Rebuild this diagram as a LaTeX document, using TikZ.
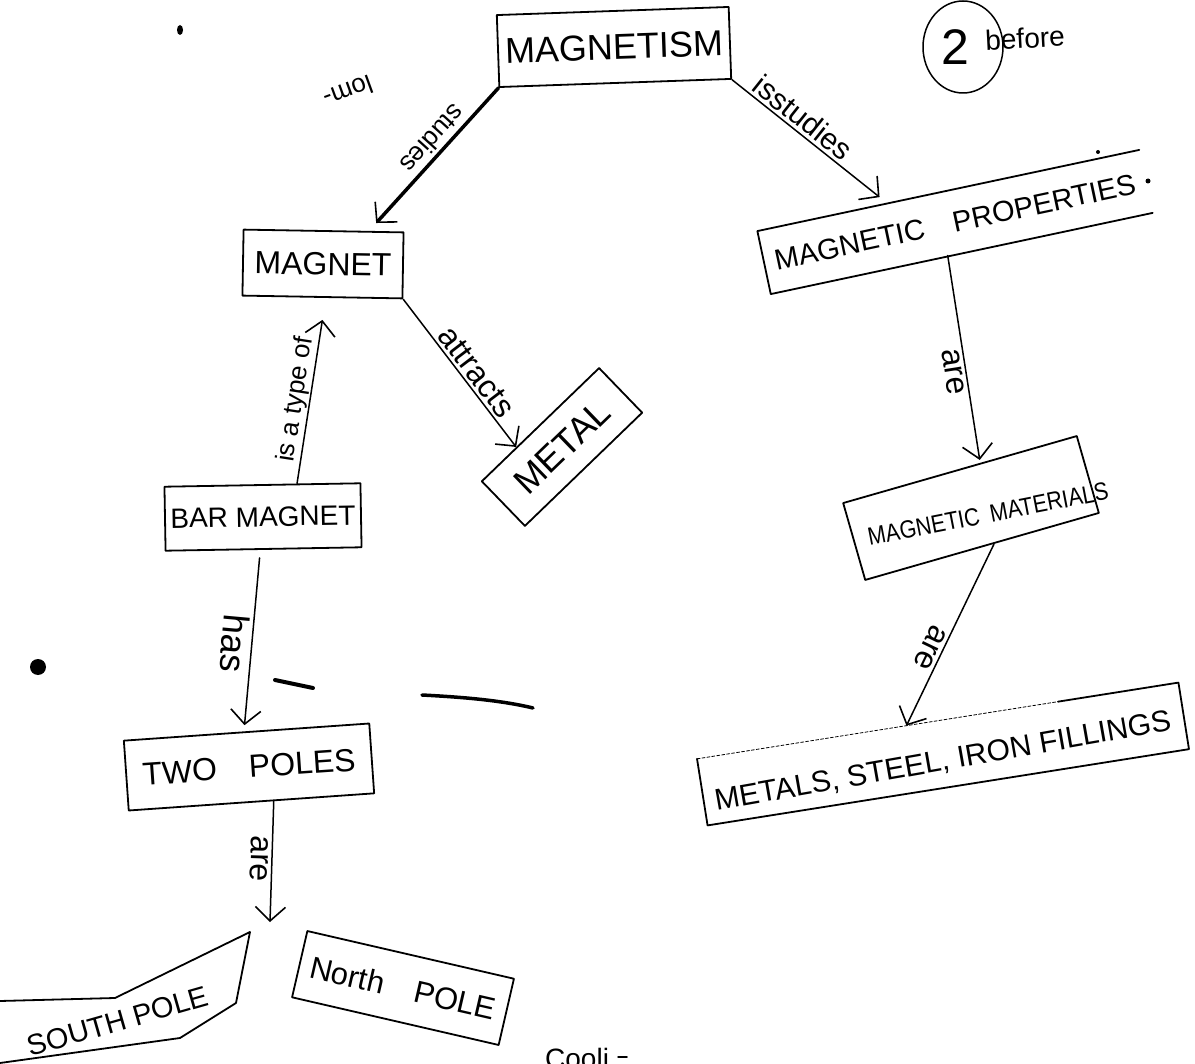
\documentclass[tikz,border=0pt]{standalone}
\usepackage{fontspec}
\setmainfont{Liberation Sans}
\usetikzlibrary{arrows.meta,calc}
\newcommand\fsz[1]{\fontsize{#1}{#1}\selectfont}
\begin{document}
\begin{tikzpicture}[x=1pt,y=-1pt, line cap=round, line join=round,
  box/.style={draw, line width=1.8pt, inner sep=0pt},
  nobox/.style={inner sep=0pt},
  txt/.style={inner sep=0pt},
  arr/.style={line width=1.5pt, -{Straight Barb[length=14pt,width=30pt,line width=1.6pt]}},
  lab/.style={sloped, allow upside down, inner sep=3pt},
]
\fill[white] (0,0) rectangle (1195,1064);
\useasboundingbox (0,0) rectangle (1195,1064);

% ---- boxes ----
\node[box, minimum width=232pt, minimum height=72pt, rotate=2, font=\fsz{36}] (mag) at (614,47) {MAGNETISM};
\node[box, minimum width=160pt, minimum height=66pt, rotate=-1, font=\fsz{32}] (magnet) at (323,264) {MAGNET};
\node[box, minimum width=163pt, minimum height=62pt, rotate=44, font=\fsz{36}] (metal) at (562,447) {METAL};
\node[box, minimum width=196pt, minimum height=64pt, rotate=1, font=\fsz{28}] (bar) at (263,517) {BAR MAGNET};
\node[box, minimum width=246pt, minimum height=70pt, rotate=4, font=\fsz{32}] (two) at (249,767) {TWO\quad POLES};

\node[nobox, minimum width=390pt, minimum height=64pt, rotate=12, font=\fsz{29}] (props) at (955,222) {MAGNETIC\quad PROPERTIES};
\draw[line width=1.8pt] (props.north east) -- (props.north west) -- (props.south west) -- (props.south east);

\node[box, minimum width=243pt, minimum height=80pt, rotate=16] (mats) at (971,508) {};
\node[txt, rotate=11, font=\fsz{25}] (matstext) at (988,514) {\scalebox{0.86}[1]{MAGNETIC\enspace MATERIALS}};

\node[nobox, minimum width=487pt, minimum height=67pt, rotate=9] (fill) at (943,754) {};
\node[txt, rotate=10, font=\fsz{30}] (filltext) at (943,762) {METALS, STEEL, IRON FILLINGS};
\draw[line width=1.8pt] ($(fill.north east)!0.25!(fill.north west)$) -- (fill.north east) -- (fill.south east) -- (fill.south west) -- (fill.north west);
\draw[line width=0.8pt, densely dashed] (fill.north west) -- ($(fill.north east)!0.25!(fill.north west)$);

\node[box, minimum width=212pt, minimum height=68pt, rotate=-13, font=\fsz{31}] (north) at (403,988) {North\quad POLE};

\node[txt, rotate=16, font=\fsz{29}] (south) at (118,1021) {SOUTH POLE};
\draw[line width=1.8pt] (0,1001) -- (115,998) -- (250,932) -- (236,1003) -- (180,1038) -- (0,1063);

\coordinate (poles) at (270,922);

% ---- connectors ----
\draw[arr, line width=3.5pt] (mag.south west) -- node[lab, below, pos=0.45, font=\fsz{26}] (lstudies) {studies} ($(magnet.north)!0.65!(magnet.north east) + (0,-8)$);
\draw[arr] (mag.south east) -- node[lab, above, pos=0.42, font=\fsz{30}] (lisstudies) {isstudies} ($(props.north west)!0.32!(props.north east) + (0,-8)$);
\draw[arr] (magnet.south east) -- node[lab, above, pos=0.55, font=\fsz{32}] (lattracts) {attracts} ($(metal.north west)!0.6!(metal.north)$);
\draw[arr] ($(bar.north)!0.35!(bar.north east)$) -- node[lab, above, pos=0.5, inner sep=1pt, font=\fsz{26}] (ltype) {is a type of} ($(magnet.south) + (0,22)$);
\draw[arr] ($(bar.south) + (-4,8)$) -- node[lab, below, pos=0.52, font=\fsz{36}] (lhas) {has} ($(two.north) + (-2,-6)$);
\draw[arr] ($(two.south)!0.18!(two.south east)$) -- node[lab, below, pos=0.48, font=\fsz{32}] (lare1) {are} (poles);
\draw[arr] ($(props.south) + (-14,2)$) -- node[lab, below, pos=0.56, font=\fsz{32}] (lare2) {are} ($(mats.north)!0.17!(mats.north east) + (0,-3)$);
\draw[arr] ($(mats.south)!0.1!(mats.south east)$) -- node[lab, below, pos=0.6, font=\fsz{32}] (lare3) {are} ($(fill.north)!0.13!(fill.north west)$);

% ---- marginal marks ----
\draw[line width=1.5pt] (963,47) ellipse (40pt and 46pt);
\node[txt, font=\fsz{50}] (num) at (955,47) {2};
\node[txt, font=\fsz{28}, rotate=3] (before) at (1025,38) {before};
\node[txt, font=\fsz{26}, rotate=-160] (scrib) at (348,92) {lom-};
\fill (180,30) ellipse (3pt and 5pt);
\fill (38,667) circle (8pt);
\fill (1098,152) circle (2pt);
\fill (1148,181) circle (2.5pt);
\draw[line width=4pt] (275,680) -- (313,688);
\draw[line width=3.5pt] (422,695) .. controls (460,697) and (500,700) .. (533,708);
\draw[line width=1.5pt] (618,1057) -- (627,1057);
\node[txt, anchor=north west, font=\fsz{28}] (cooli) at (545,1048) {Cooli};
\end{tikzpicture}
\end{document}
